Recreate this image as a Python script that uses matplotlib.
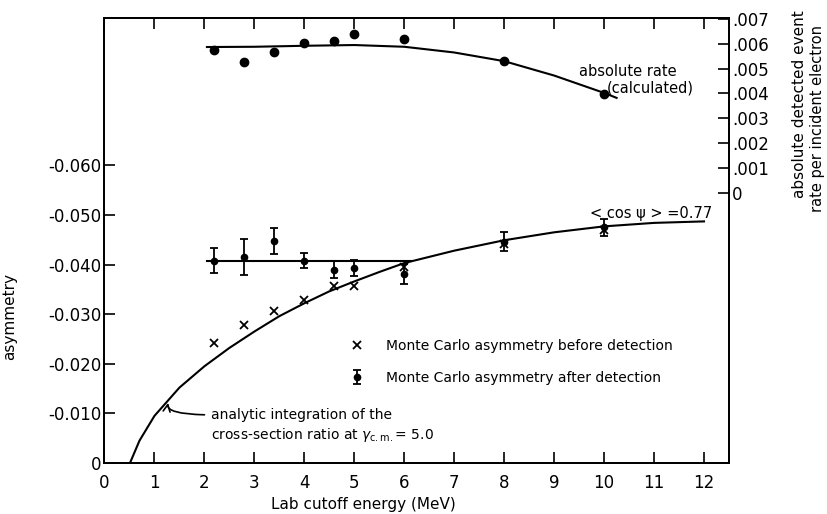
import matplotlib
matplotlib.use("Agg")
import matplotlib.pyplot as plt
from matplotlib.ticker import FixedLocator, FixedFormatter

plt.rcParams['font.family'] = ['DejaVu Sans']

# ---------------- data ----------------
energy = [2.2, 2.8, 3.4, 4.0, 4.6, 5.0, 6.0, 8.0, 10.0]
asym_before = [-0.0241, -0.0279, -0.0307, -0.0328, -0.0356, -0.0356, -0.0395, -0.0441, -0.0469]
asym_after = [-0.0408, -0.0415, -0.0447, -0.0408, -0.0390, -0.0393, -0.0381, -0.0446, -0.0475]
asym_after_err = [0.0025, 0.0037, 0.0026, 0.0015, 0.0017, 0.0016, 0.0021, 0.0019, 0.0017]
rate_points = [0.00573, 0.00526, 0.00568, 0.00603, 0.00610, 0.00638, 0.00621, 0.00531, 0.00399]

# analytic integration curve
analytic_x = [0.51, 0.7, 1.0, 1.5, 2.0, 2.5, 3.0, 3.5, 4.0, 4.5, 5.0, 5.5, 6.0, 7.0, 8.0, 9.0, 10.0, 11.0, 12.0]
analytic_y = [0.0, -0.0045, -0.0095, -0.0152, -0.0195, -0.0232, -0.0265, -0.0296, -0.0322, -0.0346,
              -0.0366, -0.0385, -0.0403, -0.0428, -0.0449, -0.0465, -0.0477, -0.0484, -0.0487]

# flat mean line through "after detection" points
flat_x = [2.05, 6.13]
flat_y = [-0.0408, -0.0408]

# calculated absolute rate curve
rate_curve_x = [2.05, 3.0, 4.0, 5.0, 6.0, 7.0, 8.0, 9.0, 10.0, 10.25]
rate_curve_y = [0.00587, 0.00588, 0.00592, 0.00595, 0.00588, 0.00565, 0.00530, 0.00472, 0.00402, 0.00382]

x_ticks = list(range(0, 13))
x_ticklabels = [str(v) for v in x_ticks]
y_ticks = [0.0, -0.01, -0.02, -0.03, -0.04, -0.05, -0.06]
y_ticklabels = ["0", "-0.010", "-0.020", "-0.030", "-0.040", "-0.050", "-0.060"]
rate_ticks = [0.0, 0.001, 0.002, 0.003, 0.004, 0.005, 0.006, 0.007]
rate_ticklabels = ["0", ".001", ".002", ".003", ".004", ".005", ".006", ".007"]

# ---------------- figure ----------------
W, H = 828, 514
fig = plt.figure(figsize=(W / 100, H / 100), dpi=100)
ax_l, ax_r, ax_t, ax_b = 104.5, 729, 18, 463
ax = fig.add_axes([ax_l / W, 1 - ax_b / H, (ax_r - ax_l) / W, (ax_b - ax_t) / H])

ax.set_xlim(0, 12.5)
ax.set_ylim(0, -0.0897)

for s in ax.spines.values():
    s.set_linewidth(1.3)

ax.xaxis.set_major_locator(FixedLocator(x_ticks))
ax.xaxis.set_major_formatter(FixedFormatter(x_ticklabels))
ax.yaxis.set_major_locator(FixedLocator(y_ticks))
ax.yaxis.set_major_formatter(FixedFormatter(y_ticklabels))
ax.tick_params(axis='x', direction='in', top=True, bottom=True, length=8, width=1.2,
               labelsize=12, pad=8)
ax.tick_params(axis='y', direction='in', left=True, right=False, length=8, width=1.2,
               labelsize=12, pad=2)

# analytic curve
ax.plot(analytic_x, analytic_y, color='black', lw=1.5)
# flat line
ax.plot(flat_x, flat_y, color='black', lw=1.5)
# MC before detection
h_before, = ax.plot(energy, asym_before, linestyle='none', marker='x', color='black',
                    ms=5.5, mew=1.3)
# MC after detection
h_after = ax.errorbar(energy, asym_after, yerr=asym_after_err, fmt='o', color='black',
                      ms=4.5, capsize=3, elinewidth=1.3, capthick=1.3)

# legend
ax.legend([h_before, h_after],
          ["Monte Carlo asymmetry before detection", "Monte Carlo asymmetry after detection"],
          loc='center left', bbox_to_anchor=(0.393, 0.228), frameon=False,
          fontsize=10, handlelength=1.0, handletextpad=1.6, labelspacing=1.3,
          borderpad=0, borderaxespad=0)

# annotations
ax.annotate("analytic integration of the", xy=(1.28, -0.0124), xytext=(2.14, -0.0097),
            ha='left', va='center', fontsize=10,
            arrowprops=dict(arrowstyle='->,head_length=0.5,head_width=0.25', color='black',
                            lw=1.2, relpos=(0, 0.5),
                            connectionstyle='angle3,angleA=0,angleB=70',
                            shrinkA=3, shrinkB=1))
ax.text(2.14, -0.0056, r"cross-section ratio at $\gamma_{\rm c.m.}$= 5.0", ha='left',
        va='center', fontsize=10)
ax.text(9.72, -0.0503, "< cos \u03c8 > =0.77", ha='left', va='center', fontsize=10.5)

ax.set_xlabel("Lab cutoff energy (MeV)", fontsize=11)
ax.xaxis.set_label_coords((363 - ax_l) / (ax_r - ax_l), (ax_b - 497) / (ax_b - ax_t))
ax.set_ylabel("asymmetry", fontsize=11)
ax.yaxis.set_label_coords((16.7 - ax_l) / (ax_r - ax_l), (ax_b - 317) / (ax_b - ax_t))

# right axis: absolute rate
ax2 = ax.twinx()
ax2.set_ylim(-0.0109, 0.00704)
ax2.yaxis.set_major_locator(FixedLocator(rate_ticks))
ax2.yaxis.set_major_formatter(FixedFormatter(rate_ticklabels))
ax2.tick_params(axis='y', direction='in', length=8, width=1.2, labelsize=12, pad=2)
for s in ax2.spines.values():
    s.set_linewidth(1.3)
ax2.plot(rate_curve_x, rate_curve_y, color='black', lw=1.5)
ax2.plot(energy, rate_points, linestyle='none', marker='o', color='black', ms=6)
ax2.text(9.50, 0.00490, "absolute rate", ha='left', va='center', fontsize=10.5)
ax2.text(10.05, 0.00422, "(calculated)", ha='left', va='center', fontsize=10.5)

fig.text(800 / W, 1 - 104 / H, "absolute detected event", rotation=90, ha='center',
         va='center', fontsize=11)
fig.text(818 / W, 1 - 212 / H, "rate per incident electron", rotation=90, ha='center',
         va='bottom', fontsize=10.5)

fig.savefig("out.png", dpi=100)
